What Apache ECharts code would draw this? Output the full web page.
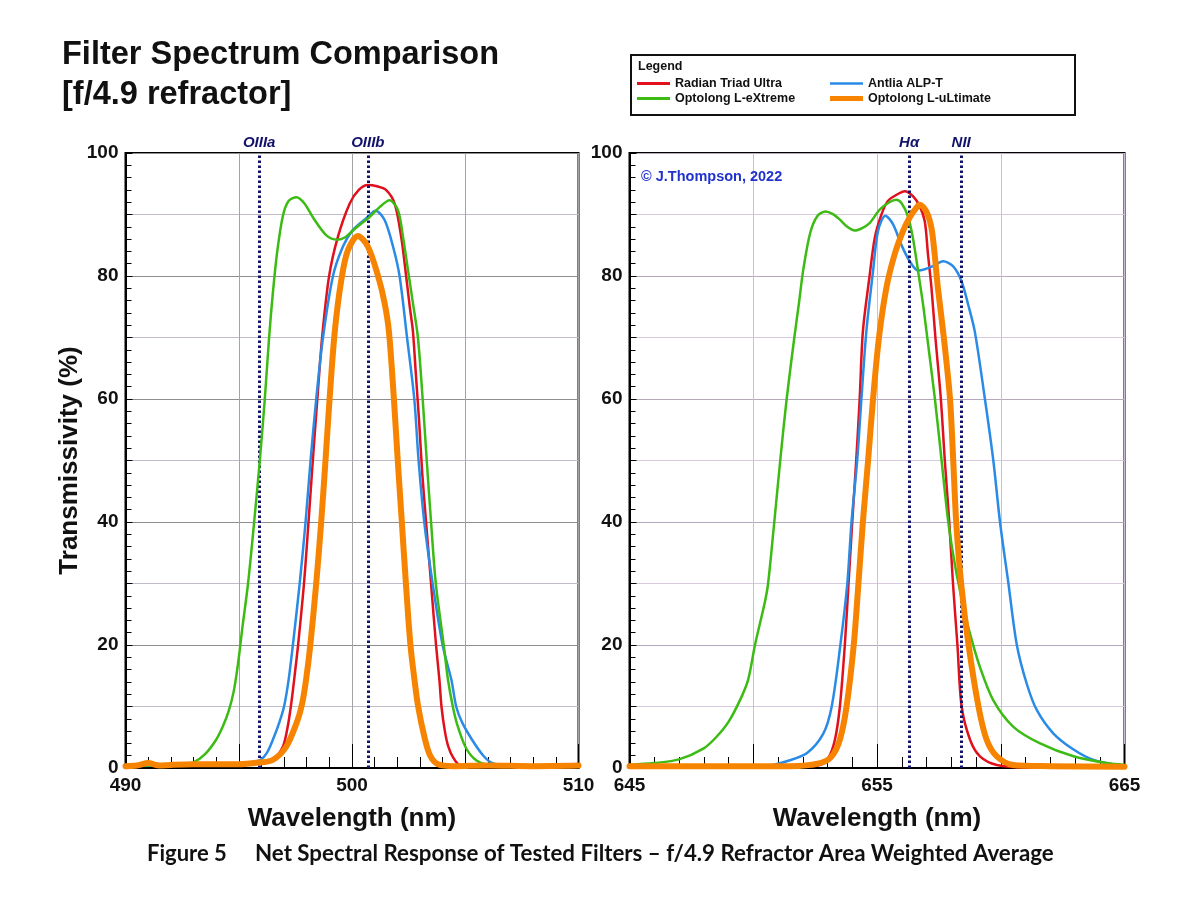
<!DOCTYPE html>
<html>
<head>
<meta charset="utf-8">
<title>Filter Spectrum Comparison</title>
<script src="https://cdn.jsdelivr.net/npm/echarts@6/dist/echarts.min.js"></script>
<style>
  html, body { margin: 0; padding: 0; background: #fff; }
  #chart { width: 1200px; height: 900px; }
</style>
</head>
<body>
<div id="chart"></div>
<script>
// series names (legend order)
var filterNames = ['Radian Triad Ultra', 'Antlia ALP-T', 'Optolong L-eXtreme', 'Optolong L-uLtimate'];
var filterColors = ['#e0101c', '#2a8be6', '#3cbb14', '#f68400'];
var filterWidths = [2.5, 2.5, 2.5, 6];

// emission lines
var oiiiLineNames = ['OIIIa', 'OIIIb'];
var oiiiLineNm = [495.9, 500.7];
var haLineNames = ['H\u03b1', 'NII'];
var haLineNm = [656.3, 658.4];

// axis ticks
var yTicks = [0, 20, 40, 60, 80, 100];
var oiiiTicks = [490, 500, 510];
var haTicks = [645, 655, 665];

// OIII panel, [wavelength nm, transmissivity %]
var oiiiRadian = [[490,0.3],[491,0.6],[492,0.4],[493,0.5],[494,0.5],[495,0.6],[495.8,0.9],[496.5,1.3],[496.95,3.5],[497.15,6.5],[497.3,10],[497.45,14.5],[497.62,20],[497.88,30],[498.08,40],[498.27,50],[498.47,60],[498.68,70],[498.99,80],[499.38,86.4],[499.9,91.8],[500.3,94],[500.7,94.8],[501.1,94.6],[501.5,94],[501.88,91.8],[502.17,86.4],[502.39,80],[502.55,75],[502.69,71],[502.82,64],[502.97,56],[503.1,48],[503.27,40],[503.49,30],[503.71,20],[503.86,14.3],[503.95,10],[504.1,6],[504.25,3.5],[504.45,1.8],[504.75,0.5],[505.5,0.3],[507,0.3],[510,0.3]];
var oiiiAntlia = [[490,0.3],[492,0.4],[494,0.5],[495,0.7],[495.5,0.9],[495.95,1.3],[496.25,2.5],[496.55,5],[496.8,7.5],[497.0,10],[497.2,14.3],[497.39,20],[497.69,30],[497.95,40],[498.17,50],[498.42,60],[498.72,70],[499.16,80],[499.6,84.8],[500.04,87.5],[500.63,89.4],[501.04,90.6],[501.44,89.1],[501.81,84.8],[502.1,80],[502.43,70],[502.75,60],[502.94,50],[503.19,40],[503.56,30],[504.0,20],[504.39,14.3],[504.6,10],[504.85,7.5],[505.3,4.6],[505.8,2],[506.2,0.8],[507,0.4],[510,0.3]];
var oiiiExtreme = [[490,0.3],[491,0.4],[492,0.5],[492.5,0.6],[493,0.9],[493.5,2.2],[494,4.6],[494.3,6.8],[494.55,9.2],[494.78,12.5],[494.97,17],[495.15,22.5],[495.41,30],[495.68,40],[495.93,50],[496.15,60],[496.34,70],[496.5,77],[496.7,84],[496.95,89.8],[497.2,92.2],[497.55,92.8],[497.9,91.8],[498.3,89.4],[498.87,86.6],[499.35,85.9],[499.7,86.3],[500.04,87.4],[500.4,88.5],[500.78,89.6],[501.22,91.2],[501.66,92.3],[502.03,90.7],[502.25,86.4],[502.47,81],[502.69,75.6],[502.91,70],[503.12,60],[503.3,50],[503.49,40],[503.7,30],[504.05,20],[504.24,14.3],[504.45,10],[504.65,7],[505.0,3.5],[505.4,1.5],[505.9,0.6],[507,0.4],[510,0.3]];
var oiiiUltimate = [[490,0.3],[490.5,0.4],[491,0.8],[491.5,0.4],[492,0.5],[493,0.6],[494,0.6],[495,0.6],[495.9,0.9],[496.5,1.3],[497.1,3.5],[497.6,7.8],[497.8,10.5],[497.97,14.3],[498.16,20],[498.42,30],[498.64,40],[498.83,50],[499.01,60],[499.24,71],[499.53,79.4],[499.82,84.2],[500.26,86.5],[500.7,84.8],[501.15,80],[501.44,75.6],[501.63,71],[501.85,60],[502.02,50],[502.2,40],[502.38,30],[502.58,20],[502.77,14],[502.92,10],[503.2,5],[503.45,2],[503.8,0.6],[504.5,0.3],[506,0.4],[508,0.3],[510,0.4]];

// H-alpha panel, [wavelength nm, transmissivity %]
var haRadian = [[645,0.1],[650,0.1],[652,0.2],[652.7,0.5],[653.03,1.6],[653.3,4.6],[653.5,10],[653.7,20],[653.85,30],[654.0,40],[654.16,50],[654.3,60],[654.43,71],[654.7,80],[654.91,86.2],[655.18,90],[655.44,92.2],[655.92,93.5],[656.12,93.8],[656.45,93],[656.72,91.4],[656.93,88.9],[657.06,83.5],[657.2,78.1],[657.36,70],[657.58,60],[657.74,50],[657.92,40],[658.07,30],[658.25,20],[658.42,10],[658.76,4.6],[659.16,1.9],[659.84,0.5],[661,0.1],[665,0.1]];
var haAntlia = [[645,0.05],[649,0.05],[650.67,0.4],[651.35,1.1],[652.16,2.4],[652.83,5.6],[653.17,10],[653.52,20],[653.8,30],[653.97,40],[654.2,50],[654.37,60],[654.57,71],[654.84,80.8],[655.04,87.3],[655.34,89.8],[655.65,88.4],[655.98,85.1],[656.32,82.4],[656.66,80.9],[656.93,81.1],[657.26,81.6],[657.67,82.4],[658.07,81.6],[658.41,79.2],[658.68,75.4],[658.95,71],[659.36,60],[659.7,50],[659.97,40],[660.31,30],[660.65,20],[661.05,13.7],[661.46,9.4],[662.13,5.6],[662.94,3],[663.75,1.3],[664.69,0.5],[665,0.4]];
var haExtreme = [[645,0.5],[646,0.8],[647,1.4],[648,3.2],[648.5,5],[649,7.5],[649.46,11],[649.79,14.3],[650.07,20],[650.47,27],[650.6,30],[650.85,40],[651.09,50],[651.35,60],[651.66,70],[651.86,76],[652.02,81],[652.3,87],[652.6,89.8],[652.92,90.5],[653.2,90.1],[653.49,89.2],[653.8,88],[654.1,87.4],[654.4,87.8],[654.7,88.6],[655.11,90.8],[655.5,92],[655.78,92.4],[655.98,91.9],[656.25,89.7],[656.45,86.2],[656.66,80.8],[656.86,75.4],[657.03,70],[657.34,60],[657.61,50],[657.88,40],[658.15,33],[658.45,27],[658.76,21.8],[659.16,16.4],[659.7,11],[660.51,6.7],[661.59,4],[662.94,1.9],[664.29,0.8],[665,0.5]];
var haUltimate = [[645,0.3],[647,0.3],[650,0.3],[651.5,0.3],[652.7,0.8],[653.17,1.9],[653.5,4.6],[653.77,10],[654.06,20],[654.25,30],[654.43,40],[654.64,50],[654.84,60],[655.08,70],[655.38,78.1],[655.71,83.5],[656.05,87.3],[656.32,89.5],[656.59,91.1],[656.72,91.6],[656.99,90.5],[657.2,87.8],[657.33,83.5],[657.46,78.1],[657.7,70],[657.95,60],[658.08,50],[658.2,40],[658.4,30],[658.7,20],[659.1,10],[659.43,4.6],[659.84,1.9],[660.5,0.5],[662,0.3],[665,0.2]];

var oiiiData = [oiiiRadian, oiiiAntlia, oiiiExtreme, oiiiUltimate];
var haData = [haRadian, haAntlia, haExtreme, haUltimate];

var FONT = '"Liberation Sans", Arial, sans-serif';
var CAPTION_FONT = 'Lato, "Open Sans", sans-serif';

var chart = echarts.init(document.getElementById('chart'));

function xAxisFor(gridIndex, lo, hi, labels, gridColor) {
    return {
        type: 'value', gridIndex: gridIndex, min: lo, max: hi, interval: 5,
        name: 'Wavelength (nm)', nameLocation: 'middle', nameGap: 38,
        nameTextStyle: { fontFamily: FONT, fontWeight: 'bold', fontSize: 26, color: '#111' },
        axisLine: { show: true, onZero: false, lineStyle: { color: '#000', width: 2 } },
        axisTick: { show: true, inside: true, length: 24, lineStyle: { color: '#000', width: 1 } },
        minorTick: { show: true, splitNumber: 5, length: 11, lineStyle: { color: '#000', width: 1 } },
        axisLabel: {
            margin: 8, fontFamily: FONT, fontWeight: 'bold', fontSize: 19, color: '#111',
            formatter: function (v) { return labels.indexOf(v) >= 0 ? String(v) : ''; }
        },
        splitLine: { show: true, lineStyle: { color: gridColor, width: 1 } }
    };
}

function yAxisFor(gridIndex, withName, gridColors) {
    return {
        type: 'value', gridIndex: gridIndex, min: 0, max: 100, interval: 10,
        name: withName ? 'Transmissivity (%)' : '', nameLocation: 'middle', nameGap: 35,
        nameTextStyle: { fontFamily: FONT, fontWeight: 'bold', fontSize: 26, color: '#111' },
        axisLine: { show: true, lineStyle: { color: '#000', width: 2 } },
        axisTick: { show: true, inside: true, length: 7, lineStyle: { color: '#000', width: 1 } },
        minorTick: { show: true, splitNumber: 5, length: 6, lineStyle: { color: '#000', width: 1 } },
        axisLabel: {
            margin: 7, fontFamily: FONT, fontWeight: 'bold', fontSize: 19, color: '#111',
            formatter: function (v) { return yTicks.indexOf(v) >= 0 ? String(v) : ''; }
        },
        splitLine: { show: true, lineStyle: { color: gridColors, width: 1 } }
    };
}

function refLines(names, nms) {
    return {
        silent: true,
        symbol: 'none',
        animation: false,
        lineStyle: { color: '#12126a', width: 3, type: [2.5, 2.5] },
        label: {
            show: true, position: 'end', distance: 3,
            fontFamily: FONT, fontStyle: 'italic', fontWeight: 'bold', fontSize: 15, color: '#12126a',
            formatter: function (p) { return p.name; }
        },
        emphasis: { disabled: true },
        data: nms.map(function (v, i) { return { name: names[i], xAxis: v }; })
    };
}

var series = [];
[oiiiData, haData].forEach(function (panel, gi) {
    // draw order: green, blue, red, orange on top
    [2, 1, 0, 3].forEach(function (k) {
        var s = {
            name: filterNames[k],
            type: 'line',
            xAxisIndex: gi, yAxisIndex: gi,
            data: panel[k],
            showSymbol: false, symbol: 'none',
            smooth: 0.3,
            color: filterColors[k],
            lineStyle: { color: filterColors[k], width: filterWidths[k], join: 'round', cap: 'round' },
            emphasis: { disabled: true },
            z: 3 + k
        };
        if (k === 3) {
            s.markLine = gi === 0 ? refLines(oiiiLineNames, oiiiLineNm) : refLines(haLineNames, haLineNm);
        }
        series.push(s);
    });
});

var legendText = { fontFamily: FONT, fontWeight: 'bold', fontSize: 12.5, color: '#111', lineHeight: 13 };

var option = {
    backgroundColor: '#fff',
    animation: false,
    grid: [
        { left: 125.5, top: 153, width: 453, height: 615, show: true, borderColor: '#000', borderWidth: 2, backgroundColor: 'transparent' },
        { left: 629.5, top: 153, width: 495, height: 615, show: true, borderColor: '#000', borderWidth: 2, backgroundColor: 'transparent' }
    ],
    xAxis: [
        xAxisFor(0, 490, 510, oiiiTicks, '#a3a3a3'),
        xAxisFor(1, 645, 665, haTicks, '#cbbfd6')
    ],
    yAxis: [
        yAxisFor(0, true, ['#8e8e8e', '#c2b9c9']),
        yAxisFor(1, false, ['#b3a9bb', '#d6cade'])
    ],
    legend: [
        {
            left: 637, top: 77, orient: 'vertical', padding: 0, itemGap: 2,
            itemWidth: 33, itemHeight: 3, icon: 'rect',
            textStyle: legendText, selectedMode: false,
            data: ['Radian Triad Ultra', 'Optolong L-eXtreme']
        },
        {
            left: 830, top: 77, orient: 'vertical', padding: 0, itemGap: 2,
            itemWidth: 33, itemHeight: 5,
            textStyle: legendText, selectedMode: false,
            data: [
                { name: 'Antlia ALP-T', icon: 'path://M0,0L0,0M0,5L0,5M0,1.25L33,1.25L33,3.75L0,3.75Z' },
                { name: 'Optolong L-uLtimate', icon: 'rect' }
            ]
        }
    ],
    graphic: [
        { type: 'text', left: 62, top: 39, style: { text: 'Filter Spectrum Comparison', font: 'bold 32.5px ' + FONT, fill: '#111' } },
        { type: 'text', left: 62, top: 79, style: { text: '[f/4.9 refractor]', font: 'bold 32.5px ' + FONT, fill: '#111' } },
        { type: 'rect', left: 630, top: 54, shape: { width: 444, height: 60 }, style: { fill: '#fff', stroke: '#111', lineWidth: 2 }, z: -1 },
        { type: 'text', left: 638, top: 60, style: { text: 'Legend', font: 'bold 12.5px ' + FONT, fill: '#111' } },
        { type: 'text', left: 641, top: 169, style: { text: '\u00a9 J.Thompson, 2022', font: 'bold 14.5px ' + FONT, fill: '#2233cc' }, z: 10 },
        { type: 'text', left: 147, top: 843, style: { text: 'Figure 5', font: 'bold 22px ' + CAPTION_FONT, fill: '#111' } },
        { type: 'text', left: 255, top: 843, style: { text: 'Net Spectral Response of Tested Filters \u2013 f/4.9 Refractor Area Weighted Average', font: 'bold 22.3px ' + CAPTION_FONT, fill: '#111' } }
    ],
    series: series
};

chart.setOption(option);
</script>
</body>
</html>
